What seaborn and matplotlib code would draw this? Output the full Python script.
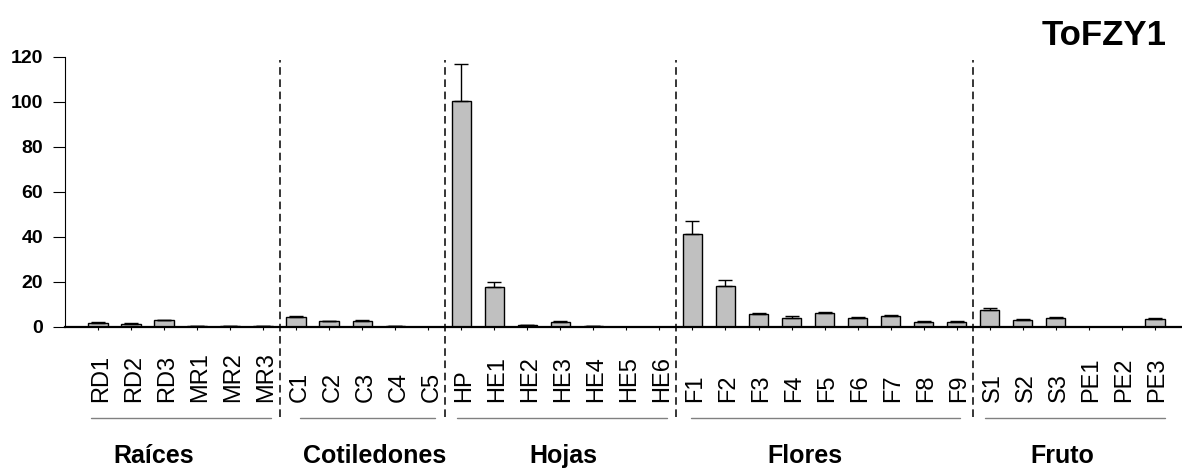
import numpy as np
import pandas as pd
import matplotlib
matplotlib.use("Agg")
import matplotlib.pyplot as plt
import matplotlib.transforms as mtransforms
import seaborn as sns

# Relative expression of ToFZY1 across tissues (mean and upper error)
samples = ["RD1", "RD2", "RD3", "MR1", "MR2", "MR3",
           "C1", "C2", "C3", "C4", "C5",
           "HP", "HE1", "HE2", "HE3", "HE4", "HE5", "HE6",
           "F1", "F2", "F3", "F4", "F5", "F6", "F7", "F8", "F9",
           "S1", "S2", "S3", "PE1", "PE2", "PE3"]
expression = [1.8, 1.2, 2.8, 0.4, 0.2, 0.3,
              4.3, 2.4, 2.5, 0.3, 0.0,
              100.5, 17.8, 0.6, 2.2, 0.3, 0.0, 0.0,
              41.3, 18.2, 5.5, 4.0, 6.0, 3.9, 4.6, 2.2, 2.2,
              7.3, 3.0, 4.0, 0.0, 0.0, 3.3]
error = [0.25, 0.3, 0.3, 0.1, 0.05, 0.1,
         0.35, 0.25, 0.3, 0.05, 0.0,
         16.2, 2.2, 0.2, 0.5, 0.1, 0.0, 0.0,
         5.7, 2.6, 0.7, 0.6, 0.4, 0.4, 0.8, 0.5, 0.5,
         1.0, 0.4, 0.5, 0.0, 0.0, 0.4]
groups = ["Raíces", "Cotiledones", "Hojas", "Flores", "Fruto"]
group_sizes = [6, 5, 7, 9, 6]
title = "ToFZY1"
yticks = [0, 20, 40, 60, 80, 100, 120]

df = pd.DataFrame({"sample": samples, "expr": expression, "err": error})

sns.set_style("ticks")
plt.rcParams["font.family"] = ["Liberation Sans", "DejaVu Sans"]
plt.rcParams["text.color"] = "black"
plt.rcParams["xtick.color"] = "black"
plt.rcParams["ytick.color"] = "black"
plt.rcParams["axes.labelcolor"] = "black"

fig = plt.figure(figsize=(11.82, 4.68), dpi=100)
ax = fig.add_axes([65 / 1182, 1 - 326.7 / 468, 1 - 65 / 1182, 270 / 468])

sns.barplot(data=df, x="sample", y="expr", color="#c0c0c0", saturation=1,
            edgecolor="black", linewidth=1, width=0.6, errorbar=None, ax=ax)

# upper-only error bars for bars that carry one
pos = np.arange(len(samples))
has_err = df["err"].to_numpy() > 0
ax.errorbar(pos[has_err], df["expr"].to_numpy()[has_err],
            yerr=[np.zeros(has_err.sum()), df["err"].to_numpy()[has_err]],
            fmt="none", ecolor="black", elinewidth=1, capsize=5, capthick=1,
            zorder=1)

ax.set_xlim(-1.01, 32.83)
ax.set_ylim(0, 120)
ax.set_yticks(yticks)
ax.set_yticklabels([str(t) for t in yticks], fontsize=14, fontweight="bold",
                   color="black")
ax.set_xlabel("")
ax.set_ylabel("")

sns.despine(ax=ax, top=True, right=True)
ax.spines["left"].set_linewidth(0.8)
ax.spines["bottom"].set_linewidth(1.6)
ax.spines["left"].set_color("black")
ax.spines["bottom"].set_color("black")
ax.tick_params(axis="y", direction="out", length=8.6, width=0.8, pad=7,
               colors="black", labelcolor="black")
ax.tick_params(axis="x", direction="out", length=2, width=0.8, pad=52.2,
               labelsize=17, labelrotation=90, colors="black", labelcolor="black")
offset = mtransforms.ScaledTranslation(3 / 100, 0, fig.dpi_scale_trans)
for lab in ax.get_xticklabels():
    lab.set_va("bottom")
    lab.set_ha("center")
    lab.set_color("black")
    lab.set_transform(lab.get_transform() + offset)

# group separators, underlines and names
trans = mtransforms.blended_transform_factory(ax.transData, ax.transAxes)
bounds = np.cumsum(group_sizes)[:-1] - 0.5
for b in bounds:
    ax.plot([b, b], [-0.334, 0.988], transform=trans, color="black",
            lw=1.1, linestyle=(0, (5, 3)), clip_on=False, zorder=5)

underline_spans = [(-0.22, 5.23), (6.11, 10.2), (10.87, 17.23), (17.95, 26.1), (26.86, 32.31)]
label_x = [1.69, 8.38, 14.08, 21.41, 29.2]
for (x0, x1), lx, name in zip(underline_spans, label_x, groups):
    ax.plot([x0, x1], [-0.338, -0.338], transform=trans, color="#808080",
            lw=1.0, clip_on=False)
    ax.text(lx, -0.505, name, transform=trans, ha="center", va="baseline",
            fontsize=18, fontweight="bold", color="black")

fig.text(1167 / 1182, 1 - 45 / 468, title, ha="right", va="baseline",
         fontsize=25, fontweight="bold", color="black")

fig.savefig("out.png", dpi=100)
